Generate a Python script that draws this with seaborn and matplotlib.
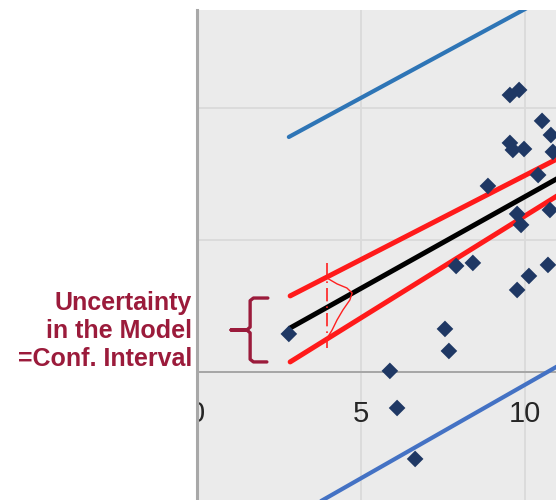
import matplotlib
matplotlib.use("Agg")
import matplotlib.pyplot as plt
import seaborn as sns
import pandas as pd

# Observations
obs_x = [2.80, 5.88, 6.10, 6.65, 7.56, 7.68, 7.90, 8.41, 8.87, 9.54, 9.82,
         9.54, 9.63, 9.97, 10.52, 10.79, 10.85, 10.40, 9.76, 9.88, 10.76,
         10.12, 10.70, 9.76]
obs_y = [2.88, 0.08, -2.73, -6.59, 3.26, 1.59, 8.03, 8.26, 14.09, 20.98, 21.36,
         17.35, 16.82, 16.89, 19.02, 17.95, 16.67, 14.92, 11.97, 11.14, 12.27,
         7.27, 8.11, 6.21]

# Fitted line and its bands (end points)
fit_x = [2.84, 11.2]
fit_y = [3.33, 14.95]
conf_hi_y = [5.76, 16.42]
conf_lo_y = [0.76, 13.68]
pred_x = [2.80, 11.2]
pred_hi_y = [17.80, 29.11]
pred_lo_y = [-11.17, 0.73]

# Sketched sideways bell curve and its guide line
bell_x = [3.96, 4.27, 4.57, 4.73, 4.66, 4.45, 4.27, 4.12, 3.99]
bell_y = [7.12, 6.67, 6.36, 5.98, 5.45, 4.70, 3.94, 3.18, 2.65]
guide_x = [3.96, 3.96]
guide_y = [8.26, 1.82]

# Brace beside the confidence band
brace_x = [2.16, 1.72, 1.62, 1.62, 1.52, 1.04, 1.52, 1.62, 1.62, 1.72, 2.13]
brace_y = [5.60, 5.60, 5.40, 3.40, 3.18, 3.18, 3.18, 2.96, 0.96, 0.76, 0.76]

x_ticks = [0, 5, 10]
x_tick_labels = ["0", "5", "10"]
y_grid = [0, 10, 20]

sns.set_theme(style="darkgrid", rc={
    "axes.facecolor": "#ebebeb",
    "grid.color": "#dadada",
    "grid.linewidth": 1.3,
})
plt.rcParams["font.family"] = ["Liberation Sans", "DejaVu Sans"]

fig = plt.figure(figsize=(5.56, 5.0), dpi=100)
fig.patch.set_facecolor("white")
ax = fig.add_axes([197 / 556, 0.0, 1 - 197 / 556, 0.98])

# Prediction interval lines
sns.lineplot(x=pred_x, y=pred_hi_y, ax=ax, color="#2e75b6", linewidth=3.0,
             solid_capstyle="round", zorder=3)
sns.lineplot(x=pred_x, y=pred_lo_y, ax=ax, color="#4472c4", linewidth=3.0,
             solid_capstyle="round", zorder=3)

# Confidence band and regression line
sns.lineplot(x=fit_x, y=conf_hi_y, ax=ax, color="#ff1a1a", linewidth=3.6,
             solid_capstyle="round", zorder=4)
sns.lineplot(x=fit_x, y=conf_lo_y, ax=ax, color="#ff1a1a", linewidth=3.6,
             solid_capstyle="round", zorder=4)
sns.lineplot(x=fit_x, y=fit_y, ax=ax, color="black", linewidth=3.6,
             solid_capstyle="round", zorder=5)

# Observed points
pts = pd.DataFrame({"x": obs_x, "y": obs_y})
sns.scatterplot(data=pts, x="x", y="y", ax=ax, marker="D", s=72,
                color="#1f3864", edgecolor="none", zorder=6)

# Hand-drawn bell curve over the band
ax.plot(bell_x, bell_y, color="#ff2020", linewidth=1.0, zorder=7)
ax.plot(guide_x, guide_y, color="#ff2020", linewidth=1.2,
        linestyle=(0, (8, 3, 1, 3)), zorder=7)

# Brace
ax.plot(brace_x, brace_y, color="#9b1b3b", linewidth=2.4,
        solid_joinstyle="round", solid_capstyle="round", clip_on=False, zorder=7)

ax.set_xlim(0, 10.945)
ax.set_ylim(-9.70, 27.42)
ax.set_xticks(x_ticks)
ax.set_yticks(y_grid)
ax.set_xticklabels([])
ax.set_yticklabels([])
ax.tick_params(length=0)
ax.set_xlabel("")
ax.set_ylabel("")
for side in ["top", "right", "bottom"]:
    ax.spines[side].set_visible(False)
ax.spines["left"].set_visible(True)
ax.spines["left"].set_color("#a8a8a8")
ax.spines["left"].set_linewidth(2.2)

# Horizontal axis line through zero
ax.axhline(0, color="#a6a6a6", lw=1.4, zorder=1.5)

# Tick labels sit just under the zero line
for xv, lab in zip(x_ticks, x_tick_labels):
    ax.text(xv, -3.2, lab, ha="center", va="center", fontsize=21,
            color="#262626", clip_on=True, zorder=2)

fig.text(192 / 556, 1 - 331 / 500, "Uncertainty\nin the Model\n=Conf. Interval",
         ha="right", va="center", multialignment="right", fontsize=18,
         fontweight="bold", color="#9b1b3b", linespacing=1.2)

fig.savefig("out.png", dpi=100, facecolor="white")
